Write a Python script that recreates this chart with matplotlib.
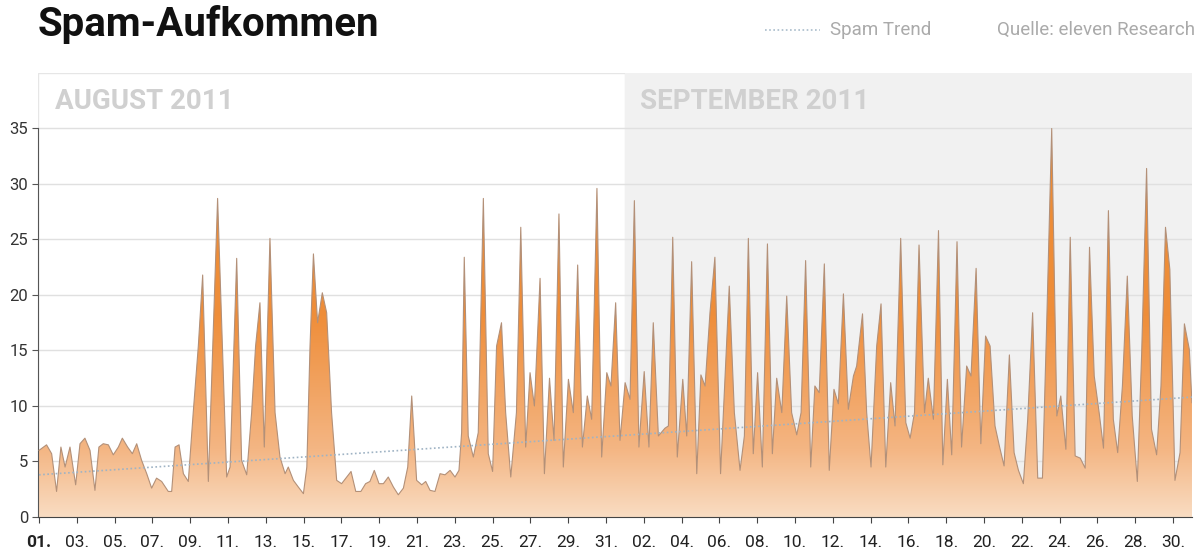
import numpy as np
import matplotlib
matplotlib.use("Agg")
import matplotlib.pyplot as plt
from matplotlib.colors import LinearSegmentedColormap
from matplotlib.patches import Polygon, Rectangle
from matplotlib.lines import Line2D

# days since 01.08.2011 00:00 and spam volume
days = [0.00, 0.40, 0.67, 0.93, 1.16, 1.38, 1.64, 1.94, 2.17, 2.43, 2.70, 2.96,
        3.17, 3.40, 3.67, 3.93, 4.20, 4.41, 4.69, 4.94, 5.17, 5.43, 5.70, 5.96,
        6.22, 6.49, 6.84, 7.02, 7.20, 7.41, 7.64, 7.90, 8.16, 8.43, 8.66, 8.96,
        9.45, 9.93, 10.11, 10.46, 10.72, 10.99, 11.25, 11.46, 11.69, 11.92, 12.22,
        12.49, 12.75, 13.02, 13.19, 13.46, 13.72, 13.99, 14.17, 14.34, 14.52,
        14.74, 14.99, 15.22, 15.48, 15.75, 16.01, 16.28, 16.51, 16.76, 17.03,
        17.28, 17.51, 17.74, 17.99, 18.22, 18.48, 18.75, 19.01, 19.28, 19.51,
        19.72, 19.98, 20.25, 20.46, 20.69, 20.95, 21.22, 21.48, 21.75, 22.01,
        22.22, 22.36, 22.50, 22.71, 22.98, 23.24, 23.51, 23.77, 24.00, 24.21,
        24.47, 24.69, 24.96, 25.26, 25.49, 25.75, 25.98, 26.21, 26.51, 26.74,
        27.01, 27.25, 27.51, 27.74, 28.01, 28.27, 28.50, 28.75, 29.01, 29.24,
        29.52, 29.77, 30.04, 30.26, 30.51, 30.74, 31.01, 31.27, 31.50, 31.74,
        32.02, 32.27, 32.50, 32.77, 33.12, 33.30, 33.53, 33.77, 34.06, 34.27,
        34.53, 34.80, 35.02, 35.24, 35.50, 35.76, 36.06, 36.29, 36.52, 36.79,
        37.09, 37.32, 37.53, 37.79, 38.02, 38.27, 38.54, 38.80, 39.03, 39.30,
        39.56, 39.82, 40.09, 40.32, 40.56, 40.83, 41.05, 41.28, 41.55, 41.81,
        42.06, 42.29, 42.56, 42.82, 43.09, 43.26, 43.57, 43.79, 44.02, 44.32,
        44.55, 44.80, 45.06, 45.29, 45.59, 45.86, 46.09, 46.32, 46.56, 46.85,
        47.05, 47.32, 47.59, 47.82, 48.06, 48.29, 48.57, 48.81, 49.08, 49.31,
        49.58, 49.83, 50.08, 50.32, 50.58, 50.81, 51.06, 51.34, 51.59, 51.82,
        52.08, 52.31, 52.57, 52.84, 53.09, 53.32, 53.58, 53.85, 54.06, 54.33,
        54.56, 54.82, 55.09, 55.35, 55.58, 55.83, 56.09, 56.32, 56.58, 56.84,
        57.07, 57.32, 57.58, 57.84, 58.11, 58.34, 58.60, 58.86, 59.13, 59.36,
        59.60, 59.83, 60.10, 60.37, 60.60, 60.86, 61.00]
spam = [6.0, 6.5, 5.7, 2.3, 6.3, 4.5, 6.3, 2.9, 6.6, 7.1, 6.0, 2.4,
        6.3, 6.6, 6.5, 5.6, 6.3, 7.1, 6.3, 5.7, 6.6, 5.1, 3.9, 2.6,
        3.5, 3.2, 2.3, 2.3, 6.3, 6.5, 3.9, 3.2, 9.4, 15.4, 21.8, 3.2,
        28.7, 3.6, 4.5, 23.3, 5.1, 3.8, 9.4, 15.4, 19.3, 6.3, 25.1,
        9.4, 5.4, 3.9, 4.5, 3.3, 2.7, 2.1, 4.5, 15.4, 23.7,
        17.5, 20.2, 18.4, 9.4, 3.3, 3.0, 3.6, 4.1, 2.3, 2.3,
        3.0, 3.2, 4.2, 3.0, 3.0, 3.6, 2.7, 2.0, 2.6, 4.5,
        10.9, 3.3, 2.9, 3.2, 2.4, 2.3, 3.9, 3.8, 4.2, 3.6,
        4.2, 7.6, 23.4, 7.3, 5.4, 7.6, 28.7, 5.7, 4.1, 15.4,
        17.5, 9.4, 3.6, 9.4, 26.1, 6.3, 13.0, 10.0, 21.5, 3.9,
        12.5, 6.9, 27.3, 4.5, 12.4, 9.4, 22.7, 6.3, 10.9, 8.8,
        29.6, 5.4, 13.0, 11.8, 19.3, 6.9, 12.1, 10.6, 28.5, 6.3,
        13.1, 6.3, 17.5, 7.3, 8.0, 8.2, 25.2, 5.4, 12.4, 7.3,
        23.0, 3.9, 12.8, 11.8, 18.4, 23.4, 3.9, 12.4, 20.8, 9.4,
        4.2, 7.3, 25.1, 5.7, 13.0, 4.5, 24.6, 5.7, 12.5, 9.4,
        19.9, 9.4, 7.4, 9.4, 23.1, 4.5, 11.8, 11.2, 22.8, 4.2,
        11.5, 10.2, 20.1, 9.7, 12.7, 13.6, 18.3, 9.4, 4.5, 15.4,
        19.2, 4.5, 12.1, 8.2, 25.1, 8.5, 7.1, 9.4, 24.5, 9.4,
        12.5, 8.8, 25.8, 4.7, 12.4, 5.6, 24.8, 6.3, 13.6, 12.7,
        22.4, 6.6, 16.3, 15.4, 8.2, 6.4, 4.6, 14.6, 5.8, 4.2,
        3.0, 8.8, 18.4, 3.5, 3.5, 17.8, 35.0, 9.1, 10.9, 6.1,
        25.2, 5.5, 5.3, 4.4, 24.3, 12.7, 9.4, 6.2, 27.6, 8.8,
        5.8, 11.8, 21.7, 9.1, 3.2, 14.8, 31.4, 7.9, 5.6, 11.8,
        26.1, 22.3, 3.3, 5.8, 17.4, 15.1, 10.3]

trend_days = [0.0, 61.0]
trend_vals = [3.8, 10.8]

aug_labels = ["01.", "03.", "05.", "07.", "09.", "11.", "13.", "15.", "17.",
              "19.", "21.", "23.", "25.", "27.", "29.", "31."]
sep_labels = ["02.", "04.", "06.", "08.", "10.", "12.", "14.", "16.", "18.",
              "20.", "22.", "24.", "26.", "28.", "30."]

plt.rcParams['font.family'] = ['Roboto', 'DejaVu Sans']

fig = plt.figure(figsize=(12, 5.55), dpi=100)
ax = fig.add_axes([0.0317, 0.0685, 0.9616, 0.80])
x0, x1 = -0.05, 61.0
ax.set_xlim(x0, x1)
ax.set_ylim(0, 40)

# month panels
ax.add_patch(Rectangle((x0, 0), 31 - x0, 40, facecolor='white', edgecolor='#e6e6e6', lw=1, zorder=0))
ax.add_patch(Rectangle((31, 0), x1 - 31, 40, facecolor='#f1f1f1', edgecolor='none', zorder=0))
for v in range(5, 40, 5):
    ax.axhline(v, color='#e0e0e0', lw=1, zorder=1)

ax.text(0.85, 37.4, "AUGUST 2011", fontsize=20, fontweight='bold', color='#d0d0d0', va='center')
ax.text(31.8, 37.4, "SEPTEMBER 2011", fontsize=20, fontweight='bold', color='#d0d0d0', va='center')

# gradient area
verts = [(days[0], 0)] + list(zip(days, spam)) + [(days[-1], 0)]
area = Polygon(verts, closed=True, facecolor='none', edgecolor='none')
ax.add_patch(area)
cmap = LinearSegmentedColormap.from_list('spam', [(0, '#f9dcc2'), (0.15, '#f4b684'),
                                                 (0.45, '#ef8e3a'), (1, '#ee8a30')])
grad = np.linspace(0, 1, 256).reshape(-1, 1)
im = ax.imshow(grad, extent=[x0, x1, 0, 40], origin='lower', aspect='auto', cmap=cmap, zorder=2)
im.set_clip_path(area)
ax.plot(days, spam, color='#b39078', lw=0.8, zorder=3)

ax.plot(trend_days, trend_vals, color='#9fb3c4', lw=1.2, ls=(0, (1, 1.5)), zorder=4)

# axes
for s in ['top', 'right']:
    ax.spines[s].set_visible(False)
ax.spines['left'].set_bounds(0, 35)
ax.spines['left'].set_color('#555555')
ax.spines['bottom'].set_color('#444444')
ax.set_yticks(range(0, 40, 5))
ax.tick_params(axis='y', length=4, color='#555555', labelsize=12, labelcolor='#333333', pad=3)
ax.set_xticks(range(0, 61, 2))
ax.set_xticklabels(aug_labels + sep_labels)
ax.tick_params(axis='x', length=4, color='#444444', labelsize=12.5, labelcolor='#222222', pad=9)
ax.get_xticklabels()[0].set_fontweight('bold')

# header
fig.text(38 / 1200, 1 - 25 / 555, "Spam-Aufkommen", fontsize=29, fontweight='bold', va='center', color='#111111')
fig.add_artist(Line2D([765 / 1200, 820 / 1200], [1 - 30 / 555] * 2, transform=fig.transFigure,
                      color='#a9bccb', lw=1.2, ls=(0, (1, 1.5))))
fig.text(830 / 1200, 1 - 30 / 555, "Spam Trend", fontsize=13.5, color='#aaaaaa', va='center')
fig.text(1195 / 1200, 1 - 30 / 555, "Quelle: eleven Research", fontsize=13.5, color='#aaaaaa', va='center', ha='right')

fig.savefig("out.png", dpi=100)
